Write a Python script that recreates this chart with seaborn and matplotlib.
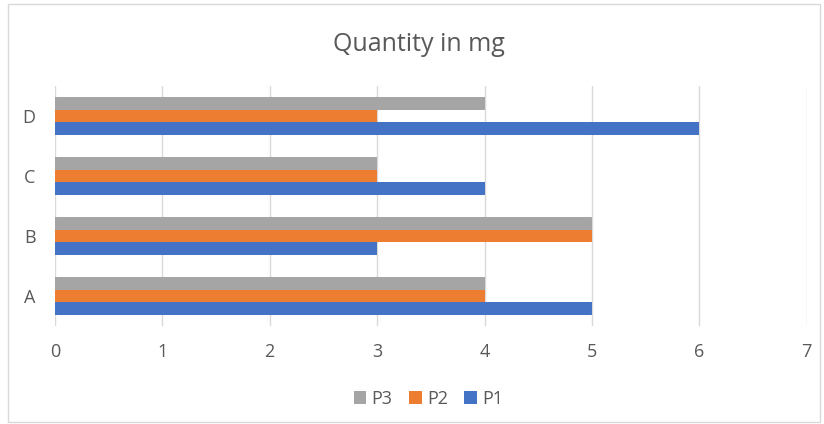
import matplotlib
matplotlib.use("Agg")
import matplotlib.pyplot as plt
import seaborn as sns
import pandas as pd
from matplotlib.patches import Rectangle

categories = ["A", "B", "C", "D"]
p1 = [5, 3, 4, 6]
p2 = [4, 5, 3, 3]
p3 = [4, 5, 3, 4]
series_names = ["P3", "P2", "P1"]
colors = {"P1": "#4472C4", "P2": "#ED7D31", "P3": "#A5A5A5"}
x_ticks = [0, 1, 2, 3, 4, 5, 6, 7]

rows = []
for name, vals in (("P1", p1), ("P2", p2), ("P3", p3)):
    for c, v in zip(categories, vals):
        rows.append({"cat": c, "series": name, "value": v})
df = pd.DataFrame(rows)

sns.set_theme(style="white")
plt.rcParams["font.family"] = ["Open Sans", "DejaVu Sans"]

fig = plt.figure(figsize=(8.24, 4.24), dpi=100)
ax = fig.add_axes([0.0667, 0.231, 0.9123, 0.566])
sns.barplot(data=df, y="cat", x="value", hue="series", orient="h",
            order=categories[::-1], hue_order=series_names,
            palette=colors, width=0.63, saturation=1, ax=ax, errorbar=None,
            linewidth=0, edgecolor="none")

ax.set_xlim(0, 7)
ax.set_xticks(x_ticks)
ax.set_ylim(3.5, -0.5)
ax.grid(axis="x", color="#D9D9D9", linewidth=1)
ax.set_axisbelow(True)
for s in ax.spines.values():
    s.set_visible(False)
ax.set_xlabel("")
ax.set_ylabel("")
ax.tick_params(axis="both", colors="#595959", labelsize=13, length=0)
ax.tick_params(axis="x", pad=12)
ax.tick_params(axis="y", pad=14)

leg = ax.legend(loc="center", ncol=3, frameon=False, fontsize=13,
                handlelength=0.7, handleheight=0.7,
                handletextpad=0.3, columnspacing=0.9)
for t in leg.get_texts():
    t.set_color("#595959")
leg.set_bbox_to_anchor((0.52, 0.06), transform=fig.transFigure)

fig.text(0.508, 0.895, "Quantity in mg", ha="center", va="center", fontsize=18, color="#595959")
fig.patches.append(Rectangle((0.01, 0.005), 0.985, 0.985, transform=fig.transFigure,
                             fill=False, edgecolor="#D9D9D9", linewidth=1))
fig.savefig("out.png", dpi=100, facecolor="white")
